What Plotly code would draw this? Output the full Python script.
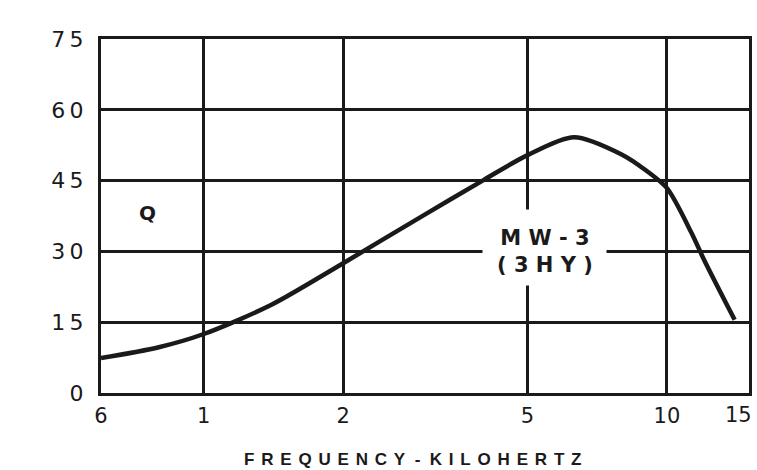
import math
import plotly.graph_objects as go

# Q of the MW-3 (3 HY) inductor versus frequency
freq_khz = [0.6, 0.8, 1.0, 1.4, 2.0, 3.0, 4.0, 5.0, 6.3, 8.0, 9.0, 10.0, 11.3, 12.0, 14.0]
q_values = [7.4, 9.7, 12.5, 18.7, 27.5, 37.8, 45.0, 50.4, 54.2, 50.5, 47.2, 43.4, 33.9, 28.4, 15.5]

x_ticks = [0.6, 1, 2, 5, 10, 15]
x_tick_text = ["6", "1", "2", "5", "10", "15"]
y_ticks = [0, 15, 30, 45, 60, 75]

INK = "#1a1a1a"
FONT = "DejaVu Sans"
THIN = "\u2009"
NBSP = "\u00a0"

# digits of the Q scale are drawn slightly apart
y_tick_text = [THIN.join(str(v)) for v in y_ticks]

# the last frequency label sits at the page edge, so it is drawn separately
axis_tick_text = x_tick_text[:-1] + [""]

fig = go.Figure()
fig.add_trace(go.Scatter(
    x=freq_khz, y=q_values, mode="lines",
    line=dict(color=INK, width=4.5, shape="spline", smoothing=0.8),
    hoverinfo="skip", showlegend=False,
))

fig.update_layout(
    width=757, height=470,
    margin=dict(l=101, r=8, t=39, b=77),
    paper_bgcolor="white", plot_bgcolor="white",
    font=dict(family=FONT, color=INK),
    xaxis=dict(
        type="log",
        range=[-0.2218, 1.1771],
        tickvals=x_ticks, ticktext=axis_tick_text,
        tickfont=dict(size=21, family=FONT, color=INK),
        ticks="", ticklen=0,
        ticklabelstandoff=2,
        automargin=False,
        showgrid=True, gridcolor=INK, gridwidth=2.6,
        showline=True, linecolor=INK, linewidth=3, mirror=True,
        zeroline=False,
    ),
    yaxis=dict(
        range=[0, 75],
        tickvals=y_ticks, ticktext=y_tick_text,
        tickfont=dict(size=22, family=FONT, color=INK),
        ticks="", ticklen=0,
        automargin=False,
        showgrid=True, gridcolor=INK, gridwidth=2.6,
        showline=True, linecolor=INK, linewidth=3, mirror=True,
        zeroline=False,
        ticklabelstandoff=10,
    ),
)

# Last frequency label, right-aligned so it stays on the page
fig.add_annotation(x=math.log10(x_ticks[-1]), y=0, xref="x", yref="y",
                   text=x_tick_text[-1], showarrow=False,
                   xanchor="right", yanchor="top", xshift=5, yshift=-8,
                   font=dict(size=21, family=FONT, color=INK))

# Letter-spaced axis caption under the frequency scale
gap = THIN + THIN
caption = gap.join("FREQUENCY") + NBSP + NBSP + "-" + NBSP + NBSP + gap.join("KILOHERTZ")
fig.add_annotation(x=0.48, y=-0.189, xref="paper", yref="paper",
                   text="<b>" + caption + "</b>", showarrow=False,
                   xanchor="center", yanchor="middle",
                   font=dict(size=17, family="Liberation Sans", color=INK))

# Axis symbol inside the grid
fig.add_annotation(x=-0.1204, y=38.1, xref="x", yref="y", text="<b>Q</b>",
                   showarrow=False, font=dict(size=20, family=FONT, color=INK))

# White patch interrupting the grid behind the curve label
fig.add_annotation(x=0.7366, y=30.8, xref="x", yref="y", text=" ",
                   showarrow=False, width=123, height=75, borderpad=0,
                   bgcolor="white")

# Curve label
fig.add_annotation(
    x=0.7366, y=29.9, xref="x", yref="y",
    text="<b>M W - 3</b><br><b>( 3 H Y )</b>",
    showarrow=False, align="center",
    font=dict(size=21, family=FONT, color=INK),
)

fig.write_html("out.html")
